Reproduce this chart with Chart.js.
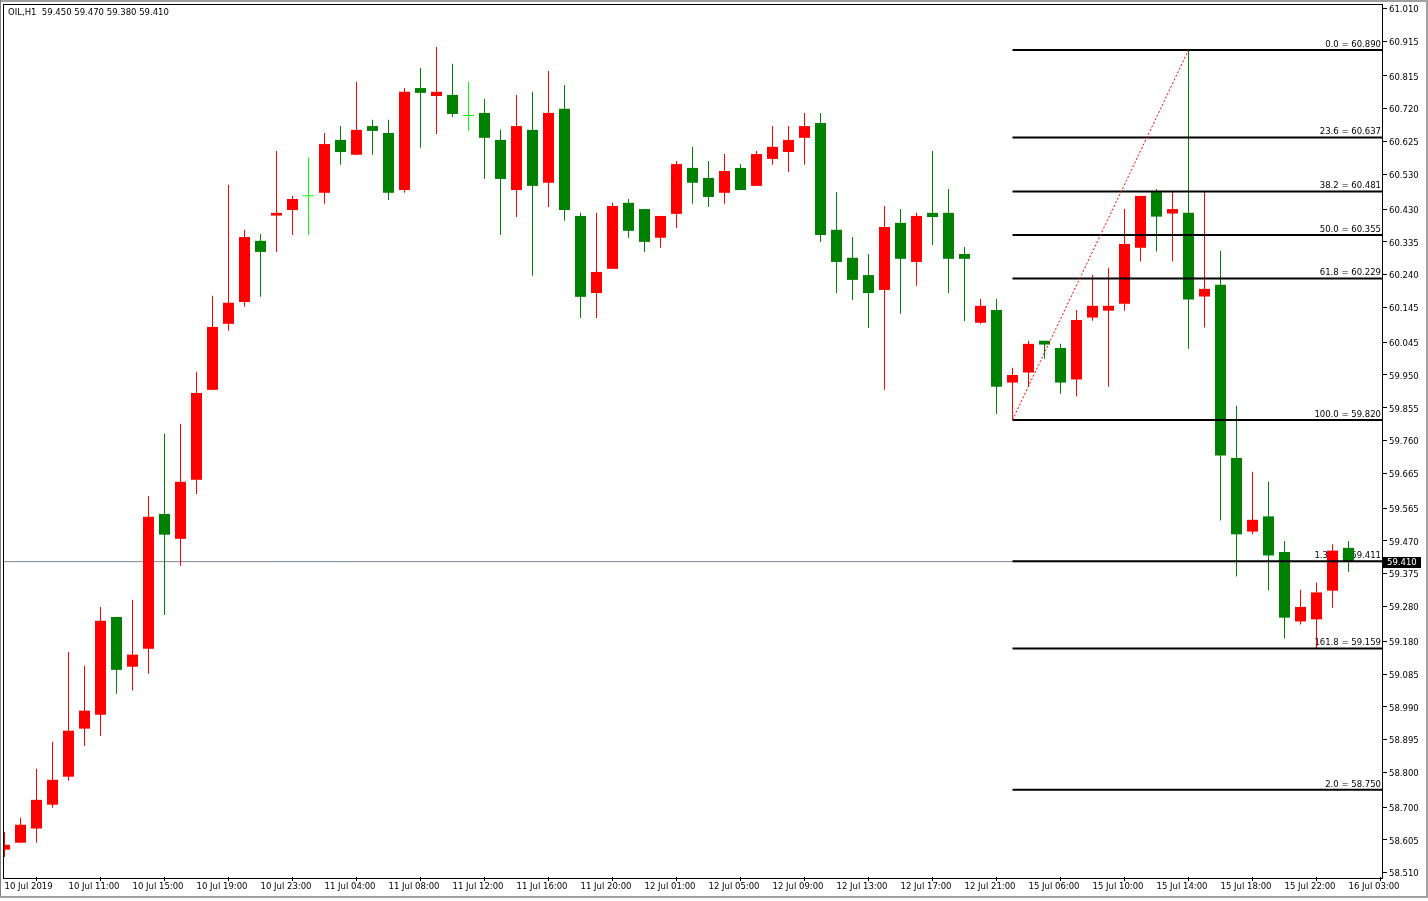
<!DOCTYPE html>
<html><head><meta charset="utf-8">
<script src="https://cdn.jsdelivr.net/npm/chart.js@4/dist/chart.umd.min.js"></script>
<style>html,body{margin:0;padding:0;background:#fff;overflow:hidden}#wrap{width:1428px;height:901px;position:relative}canvas{display:block}</style>
</head><body><div id="wrap"><canvas id="c" width="1428" height="901"></canvas></div>
<script>
// ---------- data ----------
const chartTitle = 'OIL,H1  59.450 59.470 59.380 59.410';

const opens = [
 58.577, 58.597, 58.638, 58.707, 58.788, 58.927, 58.967, 59.250, 59.106, 59.158,
 59.548, 59.476, 59.647, 59.907, 60.098, 60.161, 60.338, 60.411, 60.427, 60.467,
 60.477, 60.630, 60.587, 60.670, 60.650, 60.485, 60.780, 60.757, 60.760, 60.699,
 60.708, 60.630, 60.485, 60.659, 60.506, 60.720, 60.410, 60.187, 60.257, 60.448,
 60.430, 60.347, 60.416, 60.549, 60.520, 60.477, 60.549, 60.497, 60.575, 60.595,
 60.636, 60.679, 60.370, 60.289, 60.239, 60.196, 60.390, 60.277, 60.419, 60.419,
 60.300, 60.101, 60.138, 59.928, 59.957, 60.049, 60.028, 59.937, 60.116, 60.136,
 60.156, 60.318, 60.479, 60.417, 60.419, 60.177, 60.211, 59.710, 59.497, 59.541,
 59.438, 59.237, 59.243, 59.326, 59.450];

const highs = [
 58.629, 58.669, 58.811, 58.889, 59.149, 59.109, 59.279, 59.250, 59.300, 59.600,
 59.780, 59.809, 59.959, 60.179, 60.500, 60.370, 60.358, 60.598, 60.468, 60.578,
 60.650, 60.670, 60.798, 60.688, 60.688, 60.780, 60.838, 60.899, 60.850, 60.798,
 60.748, 60.659, 60.760, 60.769, 60.829, 60.789, 60.419, 60.419, 60.448, 60.459,
 60.430, 60.410, 60.569, 60.610, 60.569, 60.589, 60.560, 60.598, 60.670, 60.670,
 60.708, 60.708, 60.479, 60.349, 60.300, 60.439, 60.430, 60.419, 60.598, 60.488,
 60.320, 60.170, 60.170, 59.971, 60.049, 60.049, 60.040, 60.138, 60.239, 60.260,
 60.430, 60.468, 60.488, 60.479, 60.890, 60.479, 60.309, 59.861, 59.670, 59.641,
 59.470, 59.329, 59.350, 59.460, 59.470];

const lows = [
 58.556, 58.597, 58.597, 58.698, 58.776, 58.877, 58.906, 59.028, 59.037, 59.086,
 59.256, 59.398, 59.606, 59.907, 60.078, 60.147, 60.176, 60.306, 60.355, 60.355,
 60.445, 60.558, 60.587, 60.587, 60.456, 60.477, 60.607, 60.647, 60.696, 60.656,
 60.517, 60.355, 60.407, 60.237, 60.436, 60.396, 60.115, 60.115, 60.257, 60.347,
 60.306, 60.318, 60.375, 60.445, 60.436, 60.445, 60.485, 60.497, 60.558, 60.537,
 60.558, 60.335, 60.187, 60.167, 60.086, 59.907, 60.127, 60.208, 60.326, 60.187,
 60.106, 60.098, 59.837, 59.820, 59.916, 59.997, 59.896, 59.888, 60.107, 59.916,
 60.136, 60.278, 60.307, 60.278, 60.026, 60.087, 59.529, 59.367, 59.489, 59.327,
 59.188, 59.228, 59.160, 59.277, 59.380];

const closes = [
 58.591, 58.649, 58.721, 58.779, 58.921, 58.979, 59.239, 59.097, 59.141, 59.540,
 59.488, 59.641, 59.898, 60.089, 60.159, 60.349, 60.306, 60.419, 60.459, 60.467,
 60.618, 60.595, 60.659, 60.656, 60.477, 60.769, 60.766, 60.769, 60.705, 60.699,
 60.636, 60.517, 60.670, 60.497, 60.708, 60.427, 60.176, 60.248, 60.439, 60.367,
 60.335, 60.410, 60.560, 60.506, 60.465, 60.540, 60.485, 60.589, 60.610, 60.630,
 60.670, 60.355, 60.277, 60.225, 60.187, 60.378, 60.286, 60.410, 60.407, 60.286,
 60.286, 60.150, 59.916, 59.950, 60.040, 60.038, 59.928, 60.109, 60.150, 60.150,
 60.329, 60.468, 60.408, 60.430, 60.168, 60.199, 59.717, 59.489, 59.531, 59.428,
 59.248, 59.279, 59.321, 59.442, 59.410];

const xTickIndex = [0, 4, 8, 12, 16, 20, 24, 28, 32, 36, 40, 44, 48, 52, 56, 60, 64, 68, 72, 76, 80, 84];
const xTickLabels = ['10 Jul 2019', '10 Jul 11:00', '10 Jul 15:00', '10 Jul 19:00', '10 Jul 23:00',
 '11 Jul 04:00', '11 Jul 08:00', '11 Jul 12:00', '11 Jul 16:00', '11 Jul 20:00',
 '12 Jul 01:00', '12 Jul 05:00', '12 Jul 09:00', '12 Jul 13:00', '12 Jul 17:00', '12 Jul 21:00',
 '15 Jul 06:00', '15 Jul 10:00', '15 Jul 14:00', '15 Jul 18:00', '15 Jul 22:00', '16 Jul 03:00'];

const yTickLabels = ['61.010', '60.915', '60.815', '60.720', '60.625', '60.530', '60.430', '60.335', '60.240',
 '60.145', '60.045', '59.950', '59.855', '59.760', '59.665', '59.565', '59.470', '59.375', '59.280',
 '59.180', '59.085', '58.990', '58.895', '58.800', '58.700', '58.605', '58.510'];

const fibLevels = [60.890, 60.637, 60.481, 60.355, 60.229, 59.820, 59.411, 59.159, 58.750];
const fibLabels = ['0.0 = 60.890', '23.6 = 60.637', '38.2 = 60.481', '50.0 = 60.355', '61.8 = 60.229',
 '100.0 = 59.820', '1.382 = 59.411', '161.8 = 59.159', '2.0 = 58.750'];
const fibStartIndex = 63;
const trendFrom = { index: 63, price: 59.820 };
const trendTo = { index: 74, price: 60.890 };
const lastPrice = 59.410;
const lastPriceLabel = '59.410';

// ---------- view / style ----------
const xMin = -0.09375, xMax = 86.15625;
const yMin = 58.4978, yMax = 61.0231;
const FONT = { family: 'DejaVu Sans, Verdana, sans-serif', size: 8.5 };
const UP = '#ff0000', DOWN = '#008000', DOJI = '#00ff00';

const idx = opens.map((_, i) => i);
const candleColors = idx.map(i => closes[i] > opens[i] ? UP : (closes[i] < opens[i] ? DOWN : DOJI));

const datasets = [
  { type: 'line', data: [{ x: xMin, y: lastPrice }, { x: xMax, y: lastPrice }], borderColor: '#778899',
    borderWidth: 1, pointRadius: 0, order: 10 },
  { type: 'bar', data: idx.map(i => ({ x: i, y: [lows[i], highs[i]] })), backgroundColor: candleColors,
    barThickness: 1, grouped: false, borderWidth: 0, inflateAmount: 0, order: 9 },
  { type: 'bar', data: idx.map(i => ({ x: i, y: [opens[i], closes[i]] })), backgroundColor: candleColors,
    barThickness: 11, grouped: false, borderWidth: 0, inflateAmount: 0, minBarLength: 1, order: 8 }
];
fibLevels.forEach(l => datasets.push({ type: 'line', data: [{ x: fibStartIndex, y: l }, { x: xMax, y: l }],
  borderColor: '#000', borderWidth: 2, pointRadius: 0, order: 2 }));
datasets.push({ type: 'line', data: [{ x: trendFrom.index, y: trendFrom.price }, { x: trendTo.index, y: trendTo.price }],
  borderColor: '#ff0000', borderWidth: 1, borderDash: [2, 2], pointRadius: 0, order: 1 });

const noPad = s => { s.paddingTop = 0; s.paddingBottom = 0; s.paddingLeft = 0; s.paddingRight = 0; };

const decor = {
  id: 'decor',
  beforeDraw(chart) {
    const c = chart.ctx;
    c.save();
    c.fillStyle = '#fff'; c.fillRect(0, 0, chart.width, chart.height);
    c.fillStyle = '#a0a0a0'; c.fillRect(0, 0, chart.width, 2);
    c.fillStyle = '#808080'; c.fillRect(0, 0, 1, 897);
    c.fillStyle = '#a0a0a0'; c.fillRect(1426, 0, 2, 898); c.fillRect(0, 896, chart.width, 2);
    c.restore();
  },
  beforeDatasetsDraw(chart) {
    const c = chart.ctx, ys = chart.scales.y, a = chart.chartArea;
    c.save();
    c.font = FONT.size + 'px ' + FONT.family;
    c.fillStyle = '#000'; c.textAlign = 'right'; c.textBaseline = 'bottom';
    fibLevels.forEach((l, i) => c.fillText(fibLabels[i], a.right - 2, ys.getPixelForValue(l) - 1));
    c.restore();
  },
  afterDraw(chart) {
    const c = chart.ctx, ys = chart.scales.y, a = chart.chartArea;
    c.save();
    c.strokeStyle = '#000'; c.lineWidth = 1;
    c.strokeRect(a.left + 0.5, a.top + 0.5, a.right - a.left - 1, a.bottom - a.top + 1);
    c.font = FONT.size + 'px ' + FONT.family;
    c.textBaseline = 'middle'; c.textAlign = 'left';
    c.fillStyle = '#000'; c.fillText(chartTitle, 8, 12.5);
    const py = ys.getPixelForValue(lastPrice);
    c.fillRect(a.right, Math.round(py) - 5, 38, 11);
    c.fillStyle = '#fff'; c.fillText(lastPriceLabel, a.right + 4, Math.round(py) + 0.5);
    c.restore();
  }
};

new Chart(document.getElementById('c'), {
  type: 'bar',
  data: { datasets },
  options: {
    responsive: false, animation: false, devicePixelRatio: 1,
    layout: { padding: { left: 3, top: 4, right: 0, bottom: 0 } },
    plugins: { legend: { display: false }, tooltip: { enabled: false } },
    scales: {
      x: {
        type: 'linear', min: xMin, max: xMax, offset: false,
        grid: { display: true, drawOnChartArea: false, drawTicks: true, tickLength: 4, color: '#000', lineWidth: 1 },
        border: { display: false },
        afterBuildTicks: s => { s.ticks = xTickIndex.map(v => ({ value: v })); },
        afterFit: s => { s.height = 24; noPad(s); },
        ticks: { autoSkip: false, maxRotation: 0, minRotation: 0, align: 'start', padding: 1, color: '#000', font: FONT,
          callback: (v, i) => xTickLabels[i] }
      },
      y: {
        type: 'linear', position: 'right', min: yMin, max: yMax,
        grid: { display: true, drawOnChartArea: false, drawTicks: true, tickLength: 4, color: '#000', lineWidth: 1 },
        border: { display: false },
        afterBuildTicks: s => { s.ticks = yTickLabels.map(t => ({ value: parseFloat(t) })); },
        afterFit: s => { s.width = 45; noPad(s); },
        ticks: { autoSkip: false, padding: 2, labelOffset: 1.5, color: '#000', font: FONT, callback: (v, i) => yTickLabels[i] }
      }
    }
  },
  plugins: [decor]
});
</script>
</body></html>
